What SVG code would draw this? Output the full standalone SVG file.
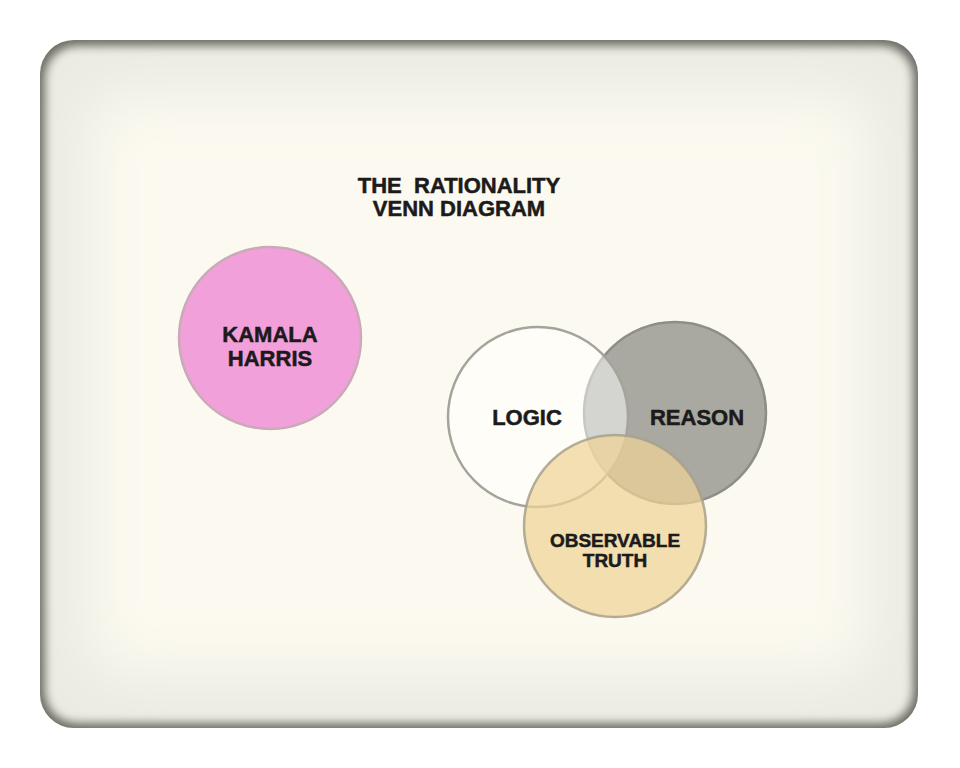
<svg xmlns="http://www.w3.org/2000/svg" width="960" height="768" viewBox="0 0 960 768">
  <defs>
    <clipPath id="frameClip"><rect x="40" y="40" width="878" height="688" rx="34" ry="34"/></clipPath>
    <filter id="blurEdge" x="-5%" y="-5%" width="110%" height="110%"><feGaussianBlur stdDeviation="5"/></filter>
    <filter id="blurWide" x="-10%" y="-10%" width="120%" height="120%"><feGaussianBlur stdDeviation="28"/></filter>
    <style>
      .lbl { font-family: "Liberation Sans", Arial, sans-serif; font-weight: 700; fill: #1c1a1a; stroke: #1c1a1a; stroke-width: 0.5px; text-anchor: middle; }
      .title { font-size: 22px; }
      .big { font-size: 22px; }
      .small { font-size: 19px; }
    </style>
  </defs>
  <rect width="960" height="768" fill="#ffffff"/>
  <g id="frame" clip-path="url(#frameClip)">
    <rect x="40" y="40" width="878" height="688" fill="#6c6c65"/>
    <rect x="45" y="46" width="868" height="677" rx="32" fill="#ecebe2" filter="url(#blurEdge)"/>
    <rect x="90" y="95" width="778" height="578" rx="30" fill="#fcfaf0" filter="url(#blurWide)"/>
  </g>
  <g id="title">
    <text class="lbl title" x="459" y="193" xml:space="preserve">THE  RATIONALITY</text>
    <text class="lbl title" x="459" y="216">VENN DIAGRAM</text>
  </g>
  <g id="kamala">
    <circle cx="270" cy="338" r="91" fill="#f2a0da" stroke="#c9aab9" stroke-width="2.5"/>
    <text class="lbl big" x="270" y="342">KAMALA</text>
    <text class="lbl big" x="270" y="366">HARRIS</text>
  </g>
  <g id="reason">
    <circle cx="675" cy="413" r="91" fill="#a9a9a2" stroke="#8e8e87" stroke-width="2.5"/>
  </g>
  <g id="logic">
    <circle cx="538" cy="417" r="90" fill="#ffffff" fill-opacity="0.5" stroke="#a4a49c" stroke-width="2.5"/>
  </g>
  <g id="truth">
    <circle cx="615" cy="526" r="91" fill="#eed296" fill-opacity="0.72" stroke="#a8a08a" stroke-opacity="0.85" stroke-width="2.5"/>
  </g>
  <g id="labels">
    <text class="lbl big" x="527" y="425">LOGIC</text>
    <text class="lbl big" x="697" y="425">REASON</text>
    <text class="lbl small" x="615" y="547">OBSERVABLE</text>
    <text class="lbl small" x="615" y="567">TRUTH</text>
  </g>
</svg>
